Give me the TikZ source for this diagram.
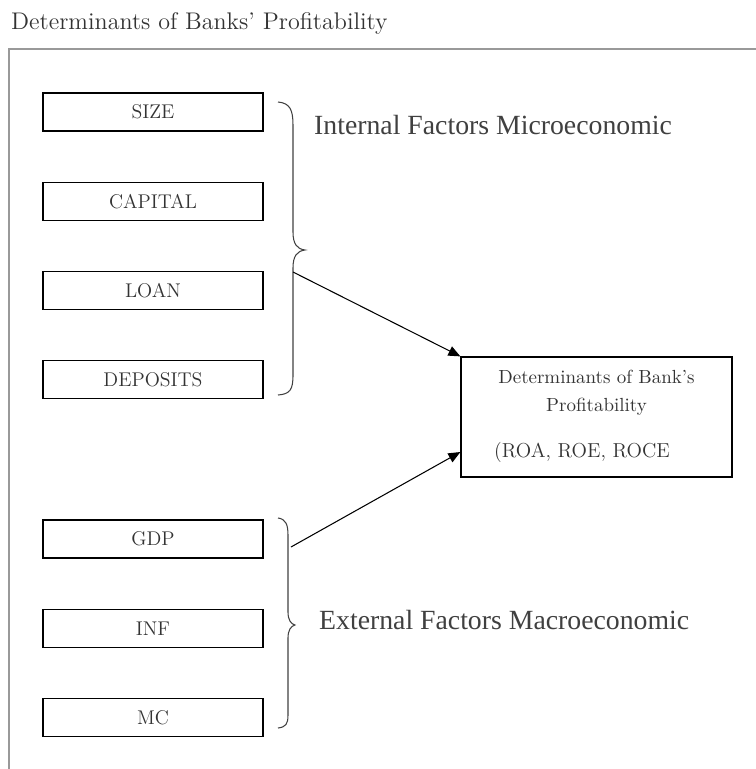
\documentclass[tikz,border=0pt]{standalone}
\usepackage{fontspec}
\newfontfamily\timesfont{Liberation Serif}
\usetikzlibrary{positioning, arrows.meta}

\begin{document}
\begin{tikzpicture}[
    x=0.02cm, y=-0.02cm,
    node distance=1cm,
    factor/.style={rectangle, draw, line width=0.7pt, minimum width=4.4cm, minimum height=0.76cm, inner sep=0pt, font=\fontsize{11.3}{13}\selectfont, text=black!80},
    arrow/.style={-{Triangle[length=2.4mm, width=2mm]}, line width=0.6pt},
    brace/.style={line width=0.6pt, black!75},
    group/.style={anchor=west, font=\timesfont\fontsize{15.8}{18}\selectfont, text=black!75},
]
\useasboundingbox (0,0) rectangle (756,769);

% --- title and frame ---
\node[anchor=west, font=\fontsize{13.7}{16}\selectfont, text=black!80] (title) at (5,23) {Determinants of Banks' Profitability};
\draw[black!40, line width=0.8pt] (9,769) -- (9,49) -- (756,49);

% --- internal factors ---
\node[factor] (size) at (153,112) {SIZE};
\node[factor, below=of size] (capital) {CAPITAL};
\node[factor, below=of capital] (loan) {LOAN};
\node[factor, below=of loan] (deposits) {DEPOSITS};
\draw[brace] (278,102) .. controls (290,103) and (293,110) .. (293,125) -- (293,232)
    .. controls (293,244) and (297,249) .. (305,250) .. controls (297,251) and (293,256) .. (293,268)
    -- (293,375) .. controls (293,390) and (290,394) .. (278,395);
\node[group] (internal) at (308,125) {Internal Factors Microeconomic};

% --- external factors ---
\node[factor] (gdp) at (153,539) {GDP};
\node[factor, below=of gdp] (inf) {INF};
\node[factor, below=of inf] (mc) {MC};
\draw[brace] (278,518) .. controls (286,519) and (288,525) .. (288,535) -- (288,612)
    .. controls (288,620) and (291,624) .. (295,625) .. controls (291,626) and (288,630) .. (288,638)
    -- (288,715) .. controls (288,724) and (286,727) .. (278,728);
\node[group] (external) at (313,620) {External Factors Macroeconomic};

% --- profitability ---
\node[rectangle, draw, line width=0.7pt, minimum width=5.42cm, minimum height=2.4cm] (profit) at (596.5,417) {};
\node[align=center, font=\fontsize{10.8}{16}\selectfont, text=black!80, below=0.15cm of profit.north] (ptitle) {Determinants of Bank's\\Profitability};
\node[anchor=west, font=\fontsize{11.5}{14}\selectfont, text=black!80] (ratios) at (488,452) {(ROA, ROE, ROCE};

\coordinate (intbr) at (293,272);
\coordinate (extbr) at (291,547);
\draw[arrow] (intbr) -- (profit.north west);
\draw[arrow] (extbr) -- (profit.west |- ratios);

\end{tikzpicture}
\end{document}
